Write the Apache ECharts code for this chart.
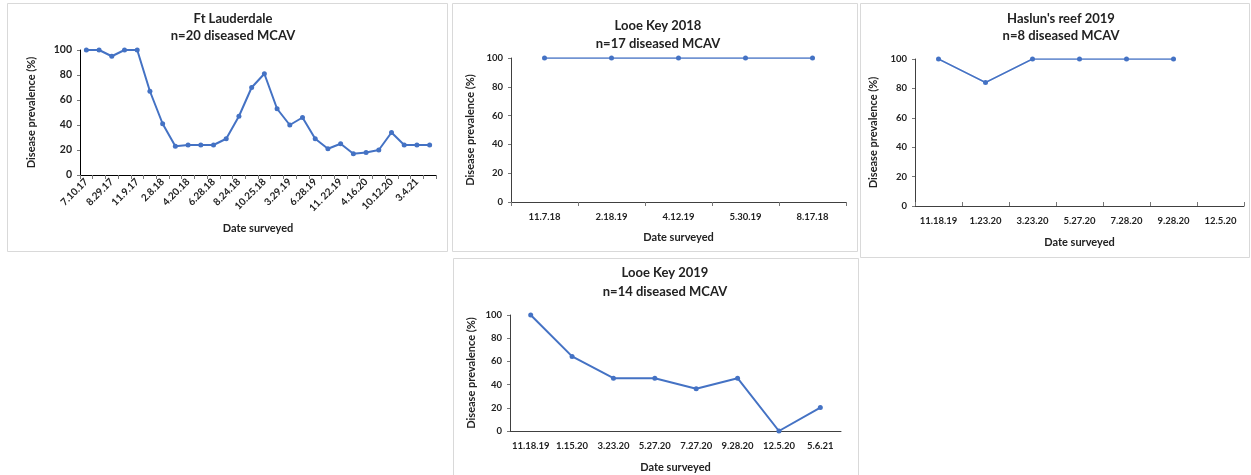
<!DOCTYPE html>
<html><head><meta charset="utf-8">
<script src="https://cdn.jsdelivr.net/npm/echarts@6/dist/echarts.min.js"></script>
<style>html,body{margin:0;padding:0;background:#fff}#c{width:1251px;height:475px}</style>
</head><body><div id="c"></div>
<script>
// ---- data ----
const ftDates = ['7.10.17','','8.29.17','','11.9.17','','2.8.18','','4.20.18','','6.28.18','','8.24.18','','10.25.18','','3.29.19','','6.28.19','','11. 22.19','','4.16.20','','10.12.20','','3.4.21',''];
const ftValues = [100,100,95,100,100,67,41,23,24,24,24,29,47,70,81,53,40,46,29,21,25,17,18,20,34,24,24,24];
const lk18Dates = ['11.7.18','2.18.19','4.12.19','5.30.19','8.17.18'];
const lk18Values = [100,100,100,100,100];
const hasDates = ['11.18.19','1.23.20','3.23.20','5.27.20','7.28.20','9.28.20','12.5.20'];
const hasValues = [100,84,100,100,100,100,null];
const lk19Dates = ['11.18.19','1.15.20','3.23.20','5.27.20','7.27.20','9.28.20','12.5.20','5.6.21'];
const lk19Values = [100,64.3,45.5,45.5,36.4,45.5,0,20.2];
const yTicks = [0,20,40,60,80,100];

const FONT = 'Lato';
const BLUE = '#4472C4';
const chart = echarts.init(document.getElementById('c'), null, {renderer:'canvas'});

const panels = [
  {title:'Ft Lauderdale\nn=20 diseased MCAV', tx:228, ty:5, lh:17,
   grid:{left:80,top:50,width:356,height:125}, cats:ftDates, vals:ftValues,
   rotate:45, lblSize:10, lblMargin:5, xNameGap:48, yNameGap:43, lw:2, axisColor:'#000', tickInside:false, showTick:true},
  {title:'Looe Key 2018\nn=17 diseased MCAV', tx:653, ty:12, lh:18,
   grid:{left:511,top:58,width:335,height:144}, cats:lk18Dates, vals:lk18Values,
   rotate:0, lblSize:9.5, lblMargin:10, xNameGap:30, yNameGap:35, lw:1.4, axisColor:'#404040', tickInside:false, showTick:true},
  {title:"Haslun's reef 2019\nn=8 diseased MCAV", tx:1056, ty:5, lh:17,
   grid:{left:915,top:59,width:329,height:147}, cats:hasDates, vals:hasValues,
   rotate:0, lblSize:9.5, lblMargin:10, xNameGap:31, yNameGap:36, lw:1.6, axisColor:'#404040', tickInside:true, showTick:true},
  {title:'Looe Key 2019\nn=14 diseased MCAV', tx:660, ty:258, lh:19,
   grid:{left:510,top:315,width:331,height:116}, cats:lk19Dates, vals:lk19Values,
   rotate:0, lblSize:9.5, lblMargin:10, xNameGap:31, yNameGap:33, lw:2, axisColor:'#404040', tickInside:false, showTick:false}
];

const option = {
  backgroundColor:'#fff',
  animation:false,
  title: panels.map(p=>({text:p.title, left:p.tx, top:p.ty, textAlign:'center',
    textStyle:{fontFamily:FONT, fontWeight:'bold', fontSize:13, color:'#222', lineHeight:p.lh}})),
  grid: panels.map(p=>Object.assign({containLabel:false}, p.grid)),
  xAxis: panels.map((p,i)=>({type:'category', gridIndex:i, data:p.cats, boundaryGap:true,
    name:'Date surveyed', nameLocation:'middle', nameGap:p.xNameGap,
    nameTextStyle:{fontFamily:FONT, fontWeight:'bold', fontSize:11, color:'#222'},
    axisLine:{lineStyle:{color:p.axisColor, width:1}},
    axisTick:{show:p.showTick, interval:0, inside:p.tickInside, length:4, lineStyle:{color:'#777'}},
    axisLabel:{interval:0, rotate:p.rotate, margin:p.lblMargin, fontFamily:FONT, fontWeight:'bold', fontSize:p.lblSize, color:'#222'},
    splitLine:{show:false}})),
  yAxis: panels.map((p,i)=>({type:'value', gridIndex:i, min:0, max:100, interval:20,
    name:'Disease prevalence (%)', nameLocation:'middle', nameGap:p.yNameGap,
    nameTextStyle:{fontFamily:FONT, fontWeight:'bold', fontSize:11, color:'#222'},
    axisLine:{show:true, lineStyle:{color:p.axisColor, width:1}},
    axisTick:{show:true, length:3, lineStyle:{color:'#777'}},
    axisLabel:{margin:8, fontFamily:FONT, fontWeight:'bold', fontSize:i===0?10.5:9.5, color:'#222',
      formatter:v=>yTicks.includes(v)?String(v):''},
    splitLine:{show:false}})),
  series: panels.map((p,i)=>({type:'line', xAxisIndex:i, yAxisIndex:i, data:p.vals,
    symbol:'circle', symbolSize:5, connectNulls:false,
    lineStyle:{color:BLUE, width:p.lw}, itemStyle:{color:BLUE}})),
  graphic: [
    {type:'rect', shape:{x:7.5,y:3.5,width:440,height:248}, style:{fill:'none', stroke:'#d9d9d9', lineWidth:1}, silent:true},
    {type:'rect', shape:{x:452.5,y:3.5,width:405,height:248}, style:{fill:'none', stroke:'#d9d9d9', lineWidth:1}, silent:true},
    {type:'rect', shape:{x:860.5,y:3.5,width:389,height:254}, style:{fill:'none', stroke:'#d9d9d9', lineWidth:1}, silent:true},
    {type:'rect', shape:{x:453.5,y:258.5,width:405,height:230}, style:{fill:'none', stroke:'#d9d9d9', lineWidth:1}, silent:true}
  ]
};
chart.setOption(option);
</script></body></html>
